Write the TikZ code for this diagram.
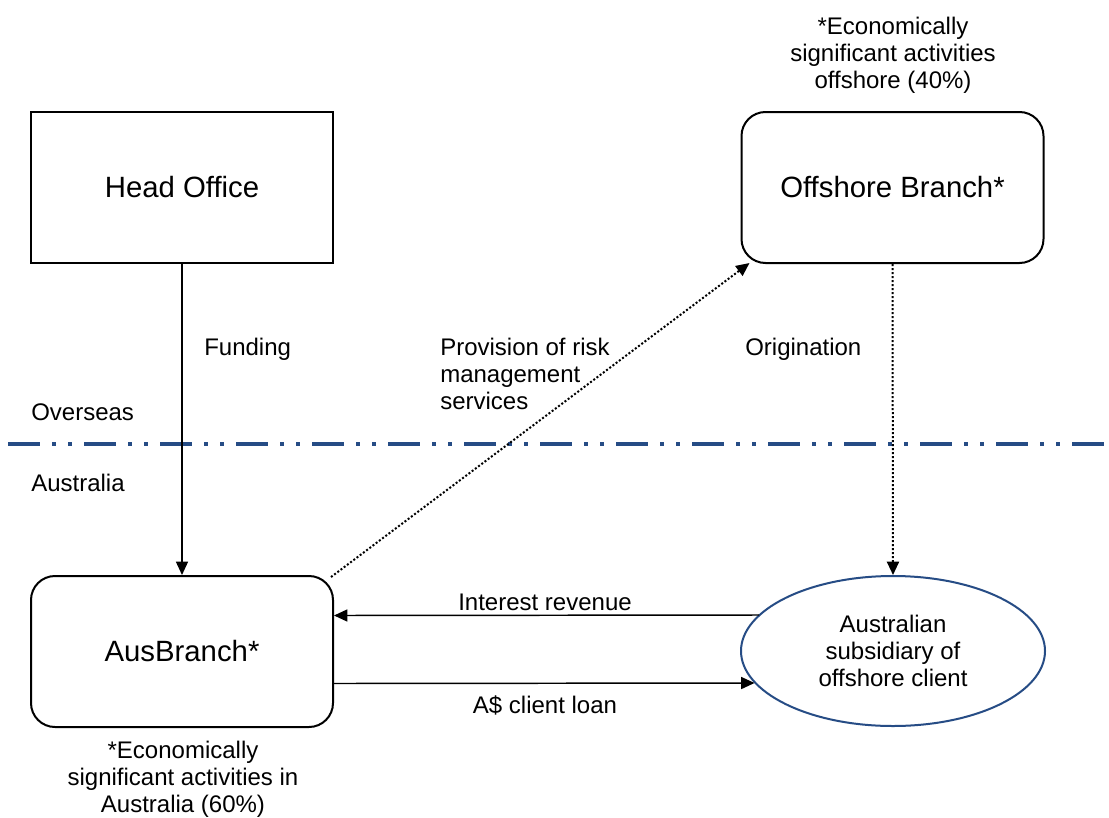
\documentclass[tikz,border=0pt]{standalone}
\usepackage{fontspec}
\setmainfont{Liberation Sans}
\usetikzlibrary{arrows.meta,shapes.geometric,calc}
\definecolor{navy}{RGB}{38,76,133}
\begin{document}
\begin{tikzpicture}[x=0.75pt,y=-0.75pt,
  every node/.style={inner sep=0pt, font=\fontsize{18pt}{20.25pt}\selectfont},
  unit/.style={draw, line width=1.5pt, minimum width=226.5pt, minimum height=113.25pt,
    font=\fontsize{22pt}{26pt}\selectfont},
  roundunit/.style={unit, rounded corners=18pt},
  client/.style={draw=navy, ellipse, line width=1.5pt, minimum width=228pt,
    minimum height=112.5pt, align=center},
  arr/.style={line width=1.1pt, -{Triangle[length=10pt,width=9pt]}},
  dotarr/.style={arr, line width=1.5pt, dash pattern=on 1.5pt off 1.5pt},
  border/.style={navy, line width=3pt,
    dash pattern=on 24pt off 9pt on 3pt off 9pt on 3pt off 9pt}]
\useasboundingbox[fill=white] (0,0) rectangle (1109,817);

% boundary between overseas and Australian operations
\coordinate (bl) at (8,444);
\coordinate (br) at (1109,444);
\draw[border] (bl) -- (br);
\node[anchor=west] (ovs) at (31,412) {Overseas};
\node[anchor=west] (aus-lbl) at (31,483) {Australia};

% entities
\node[unit] (ho) at (182,187.5) {Head Office};
\node[roundunit] (off) at (892.5,187.5) {Offshore Branch*};
\node[roundunit] (aus) at (182,651.5) {AusBranch*};
\node[client] (ell) at (893,651) {Australian\\subsidiary of\\offshore client};

% activity notes
\node[align=center] (offnote) at (893,55) {*Economically\\significant activities\\offshore (40\%)};
\node[align=center] (ausnote) at (183,779) {*Economically\\significant activities in\\Australia (60\%)};

% flows
\draw[arr] (ho.south) -- (aus.north);
\node[anchor=west] (fund) at (204,349) {Funding};

\draw[dotarr] ([shift={(-3,2)}]aus.north east) -- ([shift={(9,-1)}]off.south west);
\node[anchor=west, align=left] (risk) at (440,374) {Provision of risk\\management\\services};

\draw[dotarr] (off.south) -- (ell.north);
\node[anchor=west] (orig) at (745,349) {Origination};

\draw[arr] ([shift={(19,-36)}]ell.west) -- ([shift={(0,-36)}]aus.east);
\node (int) at (545,602) {Interest revenue};

\draw[arr] ([shift={(0,32)}]aus.east) -- ([shift={(14.5,32)}]ell.west);
\node (loan) at (545,705) {A\$ client loan};
\end{tikzpicture}
\end{document}
